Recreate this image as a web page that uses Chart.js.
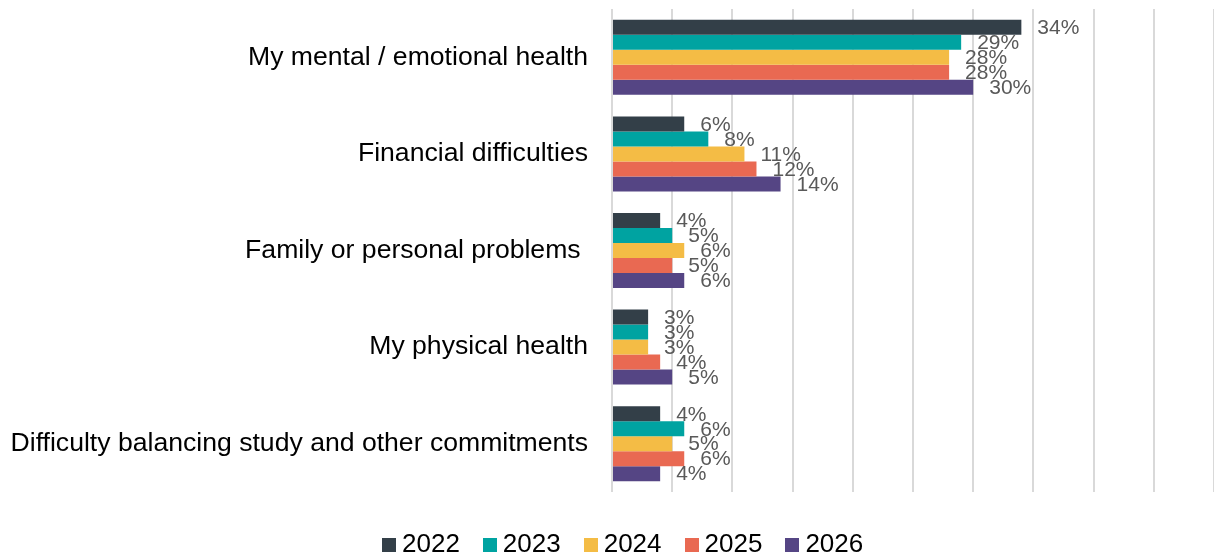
<!DOCTYPE html>
<html>
<head>
<meta charset="utf-8">
<script src="https://cdn.jsdelivr.net/npm/chart.js@4/dist/chart.umd.min.js"></script>
<style>
  html, body { margin: 0; padding: 0; background: #ffffff; }
  #wrap { width: 1214px; height: 558px; position: relative; }
  #legend {
    position: absolute; left: 382px; top: 528px; height: 30px;
    display: flex; align-items: center;
    font-family: 'Liberation Sans', Arial, Helvetica, sans-serif;
    font-size: 26px; color: #000000;
  }
  #legend .item { display: flex; align-items: center; margin-right: 23px; }
  #legend .box { width: 14px; height: 14px; margin-right: 6px; margin-top: 3px; }
</style>
</head>
<body>
<div id="wrap">
  <canvas id="reasons"></canvas>
  <div id="legend"></div>
</div>
<script>
const categories = [
  "My mental / emotional health",
  "Financial difficulties",
  "Family or personal problems ",
  "My physical health",
  "Difficulty balancing study and other commitments"
];
const years = ["2022", "2023", "2024", "2025", "2026"];
const values2022 = [34, 6, 4, 3, 4];
const values2023 = [29, 8, 5, 3, 6];
const values2024 = [28, 11, 6, 3, 5];
const values2025 = [28, 12, 5, 4, 6];
const values2026 = [30, 14, 6, 5, 4];
const yearColors = ["#333f48", "#00a3a1", "#f4bc45", "#e96952", "#554584"];

const FONT = "'Liberation Sans', Arial, Helvetica, sans-serif";

// percentage text just past the end of each bar
const barValueLabels = {
  id: "barValueLabels",
  afterDatasetsDraw(chart) {
    const ctx = chart.ctx;
    ctx.save();
    ctx.font = "21px " + FONT;
    ctx.fillStyle = "#595959";
    ctx.textAlign = "left";
    ctx.textBaseline = "middle";
    chart.data.datasets.forEach((ds, i) => {
      const meta = chart.getDatasetMeta(i);
      meta.data.forEach((bar, j) => {
        ctx.fillText(ds.data[j] + "%", bar.x + 16, bar.y + 1);
      });
    });
    ctx.restore();
  }
};

// legend built from the chart's own datasets, laid out tighter than the canvas one
const htmlLegend = {
  id: "htmlLegend",
  afterUpdate(chart) {
    const box = document.getElementById("legend");
    box.innerHTML = "";
    chart.options.plugins.legend.labels.generateLabels(chart).forEach(item => {
      const el = document.createElement("div");
      el.className = "item";
      const sw = document.createElement("span");
      sw.className = "box";
      sw.style.background = item.fillStyle;
      el.appendChild(sw);
      el.appendChild(document.createTextNode(item.text));
      box.appendChild(el);
    });
  }
};

const seriesValues = [values2022, values2023, values2024, values2025, values2026];

new Chart(document.getElementById("reasons"), {
  type: "bar",
  data: {
    labels: categories,
    datasets: years.map((year, i) => ({
      label: year,
      data: seriesValues[i],
      backgroundColor: yearColors[i],
      borderWidth: 0,
      categoryPercentage: 0.776,
      barPercentage: 1.0
    }))
  },
  options: {
    indexAxis: "y",
    responsive: true,
    maintainAspectRatio: false,
    animation: false,
    layout: { padding: { top: 9, right: 0, bottom: 0, left: 0 } },
    scales: {
      x: {
        min: 0,
        max: 50,
        ticks: { stepSize: 5, display: false },
        grid: { color: "#d9d9d9", lineWidth: 2, drawTicks: false },
        border: { display: false },
        afterFit(scale) { scale.height = 66; }
      },
      y: {
        ticks: {
          color: "#000000",
          padding: 24,
          font: { family: FONT, size: 26.6 }
        },
        grid: { display: false, drawTicks: false },
        border: { display: false },
        afterFit(scale) {
          scale.width = 612;
          scale.paddingTop = 0;
          scale.paddingBottom = 0;
        }
      }
    },
    plugins: {
      legend: { display: false },
      tooltip: { enabled: false }
    }
  },
  plugins: [barValueLabels, htmlLegend]
});
</script>
</body>
</html>
